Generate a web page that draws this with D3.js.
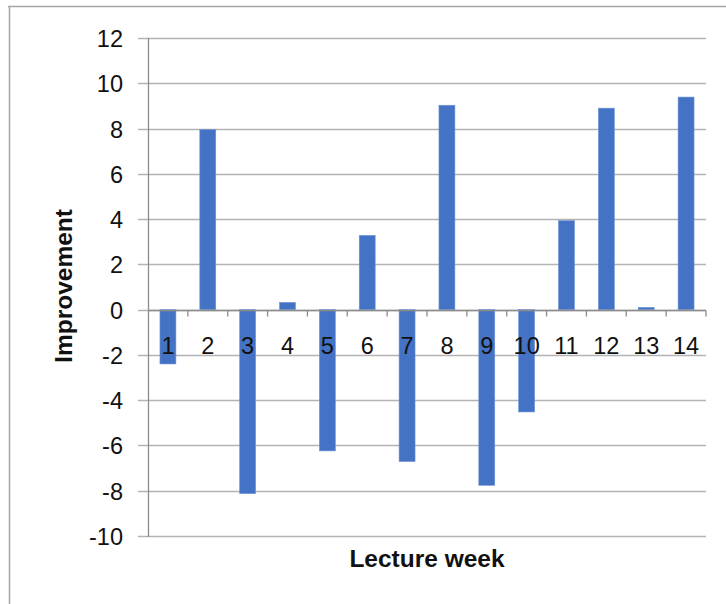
<!DOCTYPE html>
<html>
<head>
<meta charset="utf-8">
<script src="https://cdn.jsdelivr.net/npm/d3@7"></script>
<style>
html,body{margin:0;padding:0;background:#fff;}
svg{display:block;}
</style>
</head>
<body>
<svg id="chart" width="726" height="604"></svg>
<script>
const weeks = ["1","2","3","4","5","6","7","8","9","10","11","12","13","14"];
const improvement = [-2.4, 7.95, -8.13, 0.32, -6.24, 3.28, -6.71, 9.03, -7.76, -4.52, 3.93, 8.9, 0.1, 9.39];
const yTicks = [-10, -8, -6, -4, -2, 0, 2, 4, 6, 8, 10, 12];
const xTitle = "Lecture week";
const yTitle = "Improvement";

const W = 726, H = 604;
const plot = {left: 148, right: 706, top: 38, bottom: 536};
const font = "'Liberation Sans', Arial, sans-serif";
const gridColor = "#b3b3b3";
const axisColor = "#8c8c8c";
const barColor = "#4472c4";

const svg = d3.select("#chart");

// outer frame
svg.append("line").attr("x1", 8).attr("x2", W).attr("y1", 6.5).attr("y2", 6.5)
  .attr("stroke", "#a6a6a6").attr("stroke-width", 1.5);
svg.append("line").attr("x1", 9.5).attr("x2", 9.5).attr("y1", 6).attr("y2", H)
  .attr("stroke", "#a6a6a6").attr("stroke-width", 1.5);

const x = d3.scaleBand().domain(weeks).range([plot.left, plot.right])
  .paddingInner(0.6).paddingOuter(0.3);
const y = d3.scaleLinear().domain([-10, 12]).range([plot.bottom, plot.top]);

// gridlines (with outside ticks on the y axis)
svg.append("g").selectAll("line").data(yTicks).join("line")
  .attr("x1", plot.left - 10).attr("x2", plot.right)
  .attr("y1", d => Math.round(y(d)) + 0.5).attr("y2", d => Math.round(y(d)) + 0.5)
  .attr("stroke", gridColor).attr("stroke-width", 1.3);

// y axis line
svg.append("line").attr("x1", plot.left + 0.5).attr("x2", plot.left + 0.5)
  .attr("y1", Math.round(y(12))).attr("y2", Math.round(y(-10)) + 1)
  .attr("stroke", axisColor).attr("stroke-width", 1.3);

// y tick labels
const yAxis = d3.axisLeft(y).tickValues(yTicks).tickSize(0).tickPadding(0)
  .tickFormat(d => String(d));
const gy = svg.append("g").attr("transform", `translate(${plot.left - 25},0)`).call(yAxis);
gy.select(".domain").remove();
gy.selectAll("text").attr("font-family", font).attr("font-size", 23.5).attr("fill", "#111")
  .attr("dy", "0.36em");

// bars
svg.append("g").selectAll("rect").data(improvement).join("rect")
  .attr("x", (d, i) => x(weeks[i]))
  .attr("width", x.bandwidth())
  .attr("y", d => y(Math.max(0, d)))
  .attr("height", d => Math.abs(y(d) - y(0)))
  .attr("fill", barColor)
  .attr("stroke", "#6f93d4").attr("stroke-width", 0.6);

// category boundary ticks along the zero line
const step = x.step();
const boundaries = d3.range(1, weeks.length + 1).map(i => plot.left + i * step);
const y0 = Math.round(y(0)) + 0.5;
svg.append("line").attr("x1", plot.left).attr("x2", plot.right).attr("y1", y0).attr("y2", y0)
  .attr("stroke", axisColor).attr("stroke-width", 1.3);
svg.append("g").selectAll("line").data(boundaries).join("line")
  .attr("x1", d => d).attr("x2", d => d).attr("y1", y0).attr("y2", y0 + 6)
  .attr("stroke", axisColor).attr("stroke-width", 1.3);

// x category labels
svg.append("g").selectAll("text").data(weeks).join("text")
  .attr("x", d => x(d) + x.bandwidth() / 2)
  .attr("y", y0 + 43)
  .attr("text-anchor", "middle")
  .attr("font-family", font).attr("font-size", 23.5).attr("fill", "#111")
  .text(d => d);

// axis titles
svg.append("text").attr("x", (plot.left + plot.right) / 2).attr("y", 567)
  .attr("text-anchor", "middle").attr("font-family", font).attr("font-weight", "bold")
  .attr("font-size", 24.5).attr("fill", "#111").text(xTitle);
svg.append("text").attr("transform", "translate(72,286) rotate(-90)")
  .attr("text-anchor", "middle").attr("font-family", font).attr("font-weight", "bold")
  .attr("font-size", 24.5).attr("fill", "#111").text(yTitle);
</script>
</body>
</html>
